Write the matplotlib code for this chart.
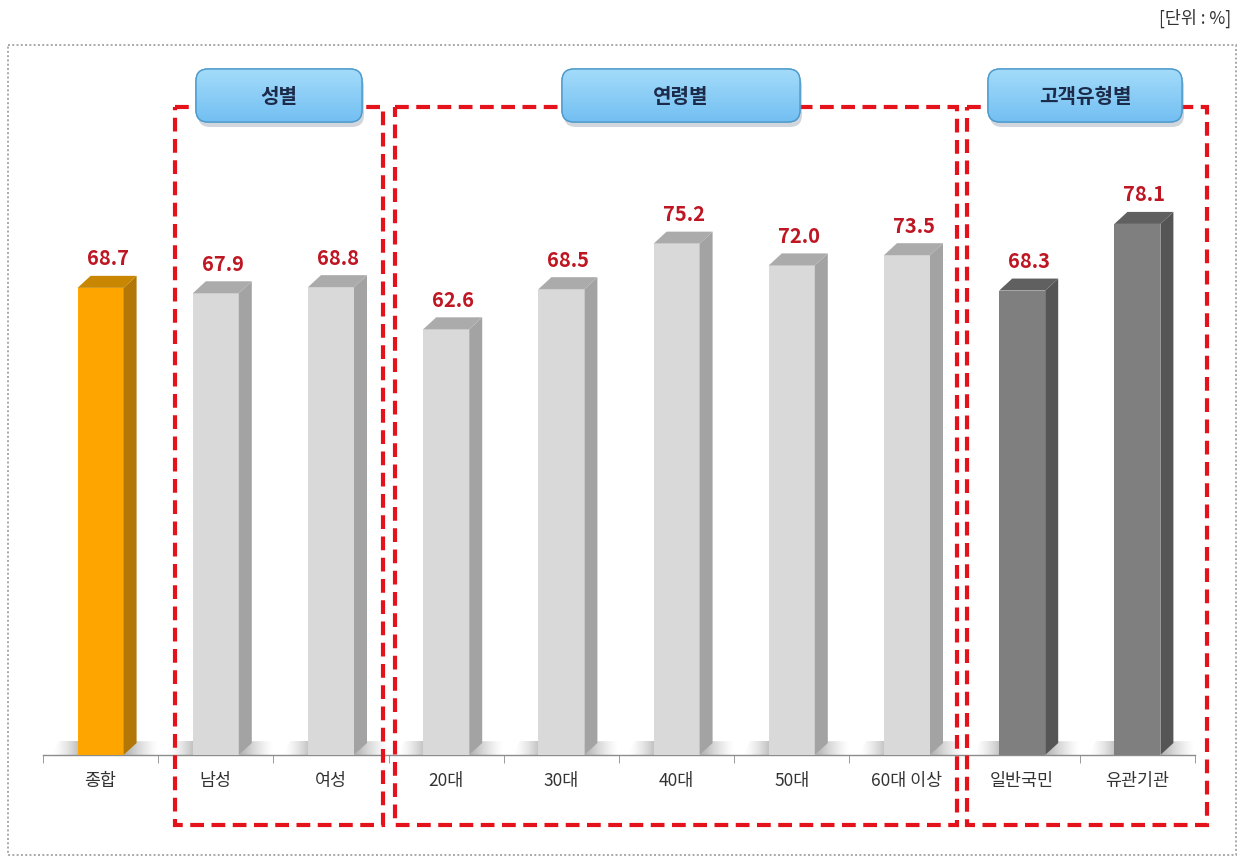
import numpy as np
import matplotlib
matplotlib.use("Agg")
import matplotlib.pyplot as plt
from matplotlib.patches import Polygon, FancyBboxPatch, Rectangle

plt.rcParams['font.family'] = ['Noto Sans CJK KR', 'DejaVu Sans']

# ---- data -------------------------------------------------------------
categories = ['종합', '남성', '여성', '20대', '30대', '40대', '50대', '60대 이상', '일반국민', '유관기관']
values = [68.7, 67.9, 68.8, 62.6, 68.5, 75.2, 72.0, 73.5, 68.3, 78.1]
bar_kind = ['total', 'sub', 'sub', 'sub', 'sub', 'sub', 'sub', 'sub', 'cust', 'cust']
group_titles = ['성별', '연령별', '고객유형별']
unit_note = '[단위 : %]'

# face colours per bar kind: (front, side, top)
palette = {
    'total': ('#FFA500', '#B27707', '#C98600'),
    'sub':   ('#D9D9D9', '#A3A3A3', '#ABABAB'),
    'cust':  ('#7F7F7F', '#555555', '#606060'),
}

# ---- canvas -----------------------------------------------------------
W, H = 1239, 860
fig = plt.figure(figsize=(W / 100, H / 100), dpi=100)
fig.patch.set_facecolor('white')

left_px, right_px, base_px, top_px = 43, 1195, 755, 45
px_per_unit = 6.8
ax = fig.add_axes([left_px / W, 1 - base_px / H,
                   (right_px - left_px) / W, (base_px - top_px) / H])
n = len(categories)
ax.set_xlim(-0.5, n - 0.5)
ax.set_ylim(0, (base_px - top_px) / px_per_unit)
ax.set_facecolor('none')

x_unit_px = (right_px - left_px) / n
bw = 46 / x_unit_px          # front face width
dx = 13 / x_unit_px          # depth offset (x)
dy = 12 / px_per_unit        # depth offset (y)


def gradient_patch(axis, extent, rgb, alphas, clip, horizontal=True, z=1):
    a = np.asarray(alphas)
    if horizontal:
        img = np.zeros((2, len(a), 4))
        img[..., :3] = rgb
        img[..., 3] = a[None, :]
    else:
        img = np.zeros((len(a), 2, 4))
        img[..., :3] = rgb
        img[..., 3] = a[:, None]
    im = axis.imshow(img, extent=extent, origin='lower', aspect='auto',
                     interpolation='bilinear', zorder=z)
    im.set_clip_path(clip)
    return im


x = np.arange(n)

# floor shadows around each bar base
for i, v in enumerate(values):
    xl, xr = x[i] - bw / 2, x[i] + bw / 2
    lp = Polygon([(x[i] - 0.42, 0), (xl, 0), (xl, dy * 1.15), (x[i] - 0.36, dy * 1.15)],
                 closed=True, facecolor='none', edgecolor='none')
    ax.add_patch(lp)
    gradient_patch(ax, (x[i] - 0.42, xl, 0, dy * 1.15), (0.42, 0.42, 0.42),
                   np.linspace(0, 0.55, 32) ** 1.5, lp, z=1)
    rp = Polygon([(xr, 0), (x[i] + 0.5, 0), (x[i] + 0.5, dy * 0.4), (xr + dx + 0.25, dy * 1.15),
                  (xr + dx, dy * 1.15)],
                 closed=True, facecolor='none', edgecolor='none')
    ax.add_patch(rp)
    gradient_patch(ax, (xr, x[i] + 0.5, 0, dy * 1.15), (0.40, 0.40, 0.40),
                   np.linspace(0.6, 0, 32) ** 1.3, rp, z=1)

# 3-D style bars: front face via bar(), side and top faces as polygons
fronts = [palette[k][0] for k in bar_kind]
ax.bar(x, values, width=bw, color=fronts, edgecolor='none', zorder=3)
for i, v in enumerate(values):
    front, side, top = palette[bar_kind[i]]
    xl, xr = x[i] - bw / 2, x[i] + bw / 2
    ax.add_patch(Polygon([(xr, 0), (xr + dx, dy), (xr + dx, v + dy), (xr, v)],
                         closed=True, facecolor=side, edgecolor='none', zorder=3))
    ax.add_patch(Polygon([(xl, v), (xl + dx, v + dy), (xr + dx, v + dy), (xr, v)],
                         closed=True, facecolor=top, edgecolor='none', zorder=3))
    ax.text(x[i] + 0.06, v + dy + 2.5, f'{v:.1f}', ha='center', va='center',
            color='#BE1622', fontsize=14.5, fontweight='bold', zorder=5)

# axis styling
for s in ('top', 'right', 'left'):
    ax.spines[s].set_visible(False)
ax.spines['bottom'].set_color('#8C8C8C')
ax.spines['bottom'].set_linewidth(1.0)
ax.set_yticks([])
ax.set_xticks(x)
ax.set_xticklabels(categories, fontsize=12.5, color='#333333')
ax.tick_params(axis='x', which='major', length=0, pad=12)
ax.set_xticks(np.arange(-0.5, n, 1.0), minor=True)
ax.tick_params(axis='x', which='minor', length=6, color='#8C8C8C', direction='out')

# ---- decoration overlay in pixel coordinates ---------------------------
ov = fig.add_axes([0, 0, 1, 1], zorder=10)
ov.set_xlim(0, W)
ov.set_ylim(H, 0)
ov.axis('off')
ov.patch.set_alpha(0)

# outer dotted frame
ov.add_patch(Rectangle((8, 45), 1228, 810, fill=False, edgecolor='#A8A8A8',
                       linewidth=1.4, linestyle=(0, (1, 1.2))))

# unit note
ov.text(1231, 18, unit_note, ha='right', va='center', fontsize=12.5, color='#333333')

# red dashed group frames
frames = [(175, 383), (395, 957), (967, 1207)]
for (l, r) in frames:
    ov.add_patch(Rectangle((l, 107), r - l, 825 - 107, fill=False,
                           edgecolor='#E3121B', linewidth=3.0,
                           linestyle=(0, (3.3, 1.8)), zorder=2))

# rounded title pills
pills = [(196, 362), (562, 800), (988, 1182)]
for (l, r), title in zip(pills, group_titles):
    t, b = 69, 122
    shadow = FancyBboxPatch((l + 2, t + 5), r - l, b - t,
                            boxstyle='round,pad=0,rounding_size=12',
                            facecolor='#7A8A99', edgecolor='none', alpha=0.35, zorder=3)
    ov.add_patch(shadow)
    pill = FancyBboxPatch((l, t), r - l, b - t, boxstyle='round,pad=0,rounding_size=12',
                          facecolor='#86CDF5', edgecolor='#5AA7D8', linewidth=1.0, zorder=4)
    ov.add_patch(pill)
    grad = np.zeros((40, 2, 4))
    tt = np.linspace(0, 1, 40)[:, None]
    top_c = np.array([0.64, 0.86, 0.98])
    bot_c = np.array([0.45, 0.75, 0.95])
    grad[..., :3] = (top_c * (1 - tt) + bot_c * tt)[:, None, :]
    grad[..., 3] = 1.0
    im = ov.imshow(grad, extent=(l, r, b, t), origin='upper', aspect='auto',
                   interpolation='bilinear', zorder=4.5)
    im.set_clip_path(pill)
    ov.add_patch(FancyBboxPatch((l, t), r - l, b - t, boxstyle='round,pad=0,rounding_size=12',
                                facecolor='none', edgecolor='#4E9ACB', linewidth=1.0, zorder=5))
    ov.text((l + r) / 2, (t + b) / 2 + 1, title, ha='center', va='center',
            fontsize=14.5, fontweight='bold', color='#1C2B4A', zorder=6)

ov.set_xlim(0, W)
ov.set_ylim(H, 0)

fig.savefig('out.png', dpi=100)
